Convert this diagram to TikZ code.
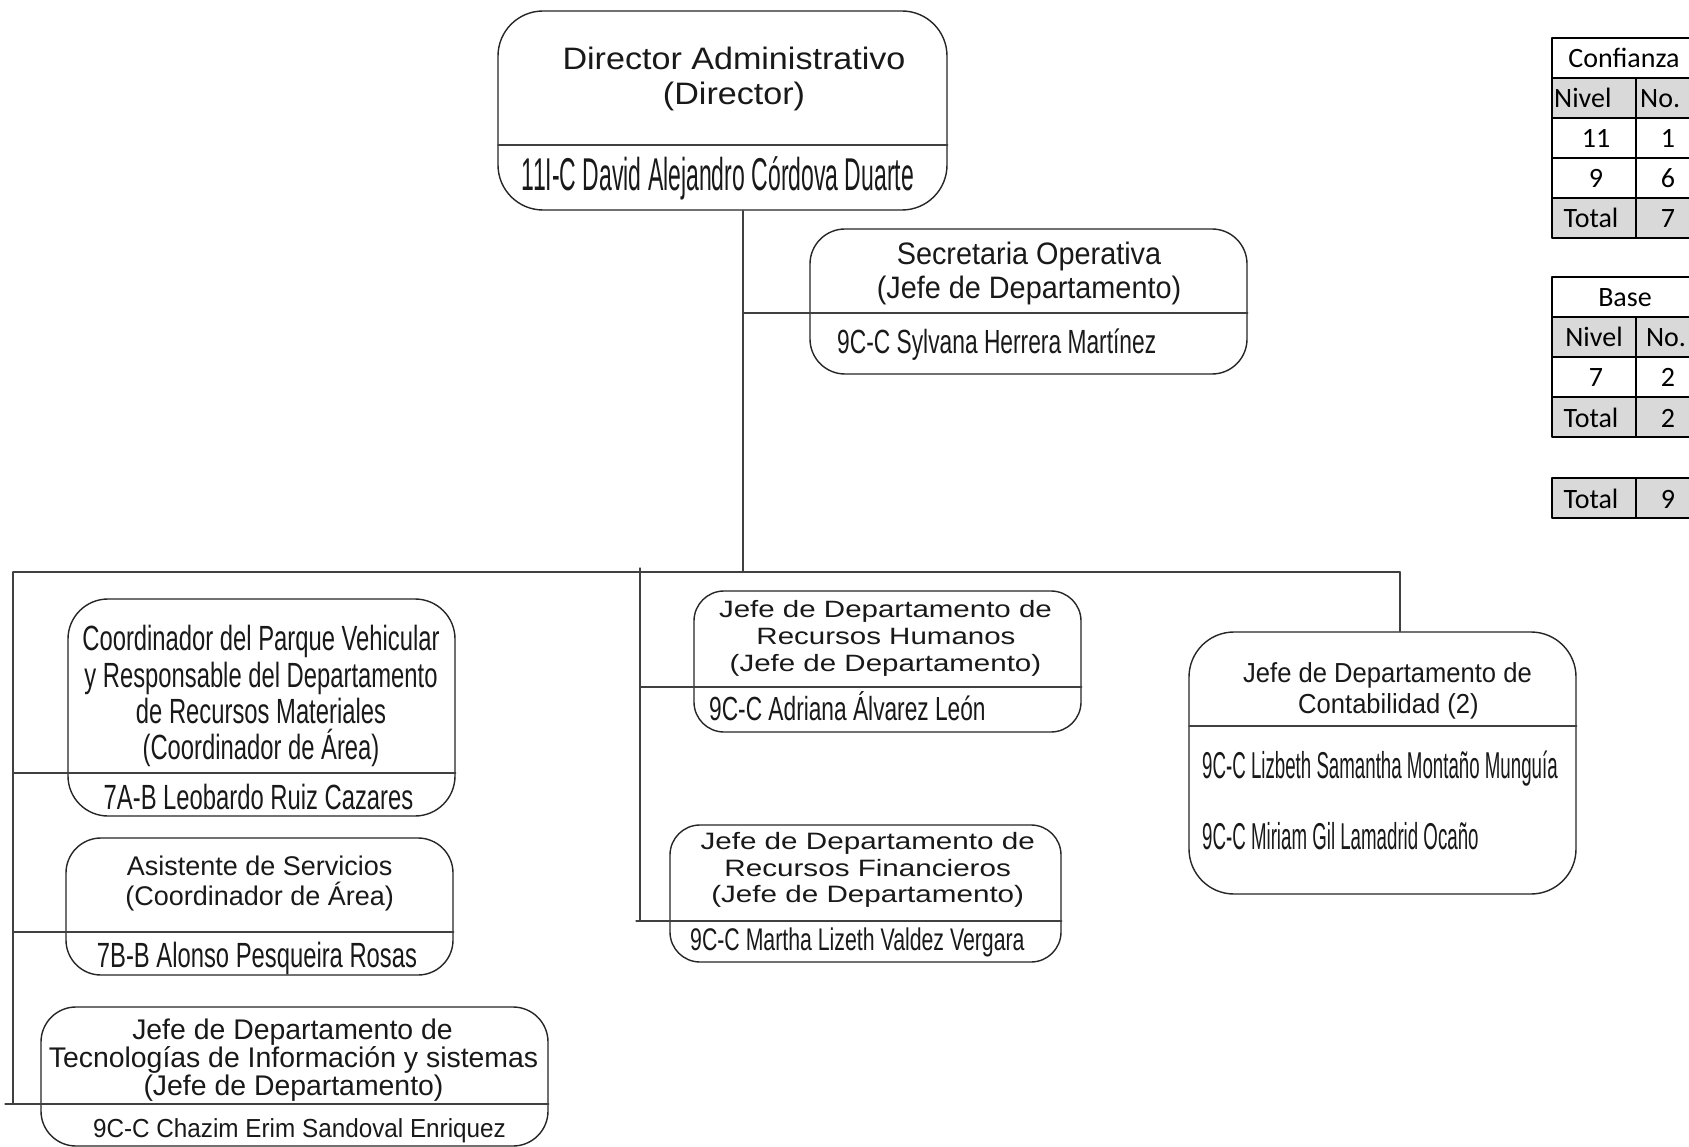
\documentclass[tikz,border=0pt]{standalone}
\usepackage{fontspec}
\setmainfont{Liberation Sans}
\newfontfamily\fWide[FakeStretch=1.25]{Liberation Sans}
\newfontfamily\fDir[FakeStretch=1.1]{Liberation Sans}
\newfontfamily\fMid[FakeStretch=0.93]{Liberation Sans}
\newfontfamily\fCond[FakeStretch=0.68]{Liberation Sans}
\newfontfamily\fNarrow[FakeStretch=0.5]{Liberation Sans}
\newfontfamily\fTab{Carlito}
\newcommand\setfs[1]{\fontsize{#1}{#1}\selectfont}
\definecolor{celda}{HTML}{D9D9D9}
\tikzset{
  cargo/.style={draw=black!85, line width=1.4pt, rounded corners=#1, inner sep=0pt},
  cargo/.default=35pt,
  liga/.style={draw=black!75, line width=1.3pt},
  txt/.style={anchor=base, inner sep=0pt, text=black!90},
  tab/.style={anchor=base, inner sep=0pt, font=\fTab\setfs{28}},
  tabla/.style={draw=black, line width=1.5pt}
}
\begin{document}
\begin{tikzpicture}[x=1pt,y=-1pt,line cap=round,line join=round]
\clip (0,0) rectangle (1689,1147);
\fill[white] (0,0) rectangle (1689,1147);
% cajas
\node[cargo=45pt, minimum width=449pt, minimum height=199pt] (dir) at (722.5,110.5) {};
\node[cargo, minimum width=437pt, minimum height=145pt] (sec) at (1028.5,301.5) {};
\node[cargo=40pt, minimum width=387pt, minimum height=217pt] (coord) at (261.5,707.5) {};
\node[cargo, minimum width=387pt, minimum height=137pt] (asis) at (259.5,906.5) {};
\node[cargo, minimum width=507pt, minimum height=139pt] (ti) at (294.5,1076.5) {};
\node[cargo=30pt, minimum width=387pt, minimum height=141pt] (rh) at (887.5,661.5) {};
\node[cargo=30pt, minimum width=391pt, minimum height=137pt] (rf) at (865.5,893.5) {};
\node[cargo=45pt, minimum width=387pt, minimum height=262pt] (cont) at (1382.5,763) {};
% puntos de union
\coordinate (busL) at (13,572);
\coordinate (busR) at (1400,572);
\coordinate (busT) at (743,572);
\coordinate (busM) at (640,568);
\coordinate (dirD) at (498,145);
\coordinate (secD) at (743,313);
\coordinate (coordD) at (13,773);
\coordinate (asisD) at (13,932);
\coordinate (tiD) at (5,1104);
\coordinate (rhD) at (640,687);
\coordinate (rfD) at (636,921);
\coordinate (contD) at (1189,726);
% lineas
\draw[liga] (dir.south -| busT) -- (busT);
\draw[liga] (busL) -- (busR);
\draw[liga] (busL) -- (tiD -| busL);
\draw[liga] (busM) -- (rfD -| busM);
\draw[liga] (busR) -- (cont.north -| busR);
\draw[liga] (dirD) -- (dirD -| dir.east);
\draw[liga] (secD) -- (secD -| sec.east);
\draw[liga] (coordD) -- (coordD -| coord.east);
\draw[liga] (asisD) -- (asisD -| asis.east);
\draw[liga] (tiD) -- (tiD -| ti.east);
\draw[liga] (rhD) -- (rhD -| rh.east);
\draw[liga] (rfD) -- (rfD -| rf.east);
\draw[liga] (contD) -- (contD -| cont.east);
% textos
\node[txt, font=\fDir\setfs{31}] (dirT1) at (734,70) {Director Administrativo};
\node[txt, font=\fDir\setfs{31}] (dirT2) at (734,105) {(Director)};
\node[txt, font=\fNarrow\setfs{46}] (dirN) at (718,191) {11I-C David Alejandro Córdova Duarte};
\node[txt, font=\fMid\setfs{31}] (secT1) at (1029,265) {Secretaria Operativa};
\node[txt, font=\fMid\setfs{31}] (secT2) at (1029,299) {(Jefe de Departamento)};
\node[txt, font=\fCond\setfs{33.5}, anchor=base west] (secN) at (837,354) {9C-C Sylvana Herrera Martínez};
\node[txt, font=\fCond\setfs{35}] (coordT1) at (261,650) {Coordinador del Parque Vehicular};
\node[txt, font=\fCond\setfs{35}] (coordT2) at (261,687) {y Responsable del Departamento};
\node[txt, font=\fCond\setfs{35}] (coordT3) at (261,723) {de Recursos Materiales};
\node[txt, font=\fCond\setfs{35}] (coordT4) at (261,759) {(Coordinador de Área)};
\node[txt, font=\fCond\setfs{35}] (coordN) at (258.5,809) {7A-B Leobardo Ruiz Cazares};
\node[txt, font=\setfs{27}] (asisT1) at (259.6,875) {Asistente de Servicios};
\node[txt, font=\setfs{27}] (asisT2) at (259.6,905) {(Coordinador de Área)};
\node[txt, font=\fCond\setfs{35}] (asisN) at (257,967) {7B-B Alonso Pesqueira Rosas};
\node[txt, font=\setfs{28.4}] (tiT1) at (292.5,1039) {Jefe de Departamento de};
\node[txt, font=\setfs{28.4}] (tiT2) at (293.5,1067) {Tecnologías de Información y sistemas};
\node[txt, font=\setfs{28.4}] (tiT3) at (293.5,1095) {(Jefe de Departamento)};
\node[txt, font=\fMid\setfs{26.1}] (tiN) at (299.5,1137) {9C-C Chazim Erim Sandoval Enriquez};
\node[txt, font=\fWide\setfs{23.6}] (rhT1) at (885.5,617) {Jefe de Departamento de};
\node[txt, font=\fWide\setfs{23.6}] (rhT2) at (886,644) {Recursos Humanos};
\node[txt, font=\fWide\setfs{23.6}] (rhT3) at (885.5,671) {(Jefe de Departamento)};
\node[txt, font=\fCond\setfs{33.4}, anchor=base west] (rhN) at (709,720) {9C-C Adriana Álvarez León};
\node[txt, font=\fWide\setfs{23.7}] (rfT1) at (867.7,849) {Jefe de Departamento de};
\node[txt, font=\fWide\setfs{23.7}] (rfT2) at (867.7,876) {Recursos Financieros};
\node[txt, font=\fWide\setfs{23.7}] (rfT3) at (867.7,902) {(Jefe de Departamento)};
\node[txt, font=\fCond\setfs{31.3}, anchor=base west] (rfN) at (690,950) {9C-C Martha Lizeth Valdez Vergara};
\node[txt, font=\fMid\setfs{27.5}] (contT1) at (1387.5,682) {Jefe de Departamento de};
\node[txt, font=\fMid\setfs{27.5}] (contT2) at (1388.5,713) {Contabilidad (2)};
\node[txt, font=\fNarrow\setfs{37.4}, anchor=base west] (contN1) at (1202,778) {9C-C Lizbeth Samantha Montaño Munguía};
\node[txt, font=\fNarrow\setfs{37.4}, anchor=base west] (contN2) at (1202,849) {9C-C Miriam Gil Lamadrid Ocaño};
% tablas
\fill[celda] (1552,78) rectangle (1700,118) (1552,198) rectangle (1700,238);
\fill[celda] (1552,317) rectangle (1700,357) (1552,397) rectangle (1700,437);
\fill[celda] (1552,478) rectangle (1700,518);
\draw[tabla] (1552,38) rectangle (1700,238) (1636,78) -- (1636,238);
\foreach \y in {78,118,158,198} \draw[tabla] (1552,\y) -- (1700,\y);
\draw[tabla] (1552,277) rectangle (1700,437) (1636,317) -- (1636,437);
\foreach \y in {317,357,397} \draw[tabla] (1552,\y) -- (1700,\y);
\draw[tabla] (1552,478) rectangle (1700,518) (1636,478) -- (1636,518);
\node[tab] (confT) at (1624,68) {Confianza};
\node[tab, anchor=base west] (confNv) at (1554,108) {Nivel};
\node[tab, anchor=base west] (confNo) at (1640,108) {No.};
\node[tab] (conf11) at (1596,148) {11};
\node[tab] (conf1) at (1668,148) {1};
\node[tab] (conf9) at (1596,188) {9};
\node[tab] (conf6) at (1668,188) {6};
\node[tab] (confTot) at (1591,228) {Total};
\node[tab] (conf7) at (1668,228) {7};
\node[tab] (baseT) at (1625,307) {Base};
\node[tab] (baseNv) at (1594,347) {Nivel};
\node[tab] (baseNo) at (1666,347) {No.};
\node[tab] (base7) at (1596,387) {7};
\node[tab] (base2) at (1668,387) {2};
\node[tab] (baseTot) at (1591,427) {Total};
\node[tab] (baseSum) at (1668,427) {2};
\node[tab] (totTot) at (1591,508) {Total};
\node[tab] (tot9) at (1668,508) {9};
\end{tikzpicture}
\end{document}
